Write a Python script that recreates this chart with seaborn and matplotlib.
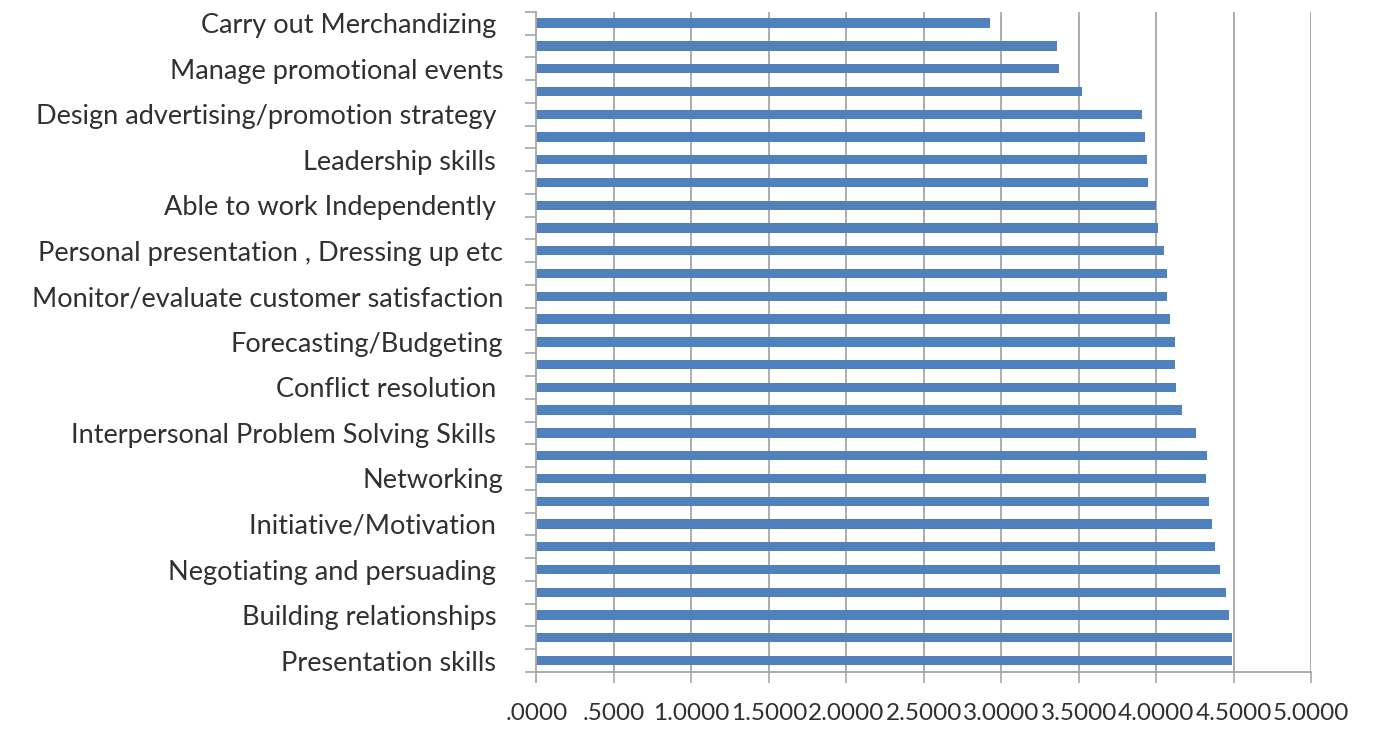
import numpy as np
import pandas as pd
import matplotlib
matplotlib.use("Agg")
import matplotlib.pyplot as plt
from matplotlib.ticker import FuncFormatter, FixedLocator
import seaborn as sns

# Mean ratings, listed from the top bar to the bottom bar
scores = [2.93, 3.36, 3.37, 3.52, 3.91, 3.93, 3.94, 3.95, 4.00, 4.01,
          4.05, 4.07, 4.07, 4.09, 4.12, 4.12, 4.13, 4.17, 4.26, 4.33,
          4.32, 4.34, 4.36, 4.38, 4.41, 4.45, 4.47, 4.49, 4.49]

# Axis labels are printed on every other bar, starting at the top one
skill_labels = [
    "Carry out Merchandizing ",
    "Manage promotional events",
    "Design advertising/promotion strategy ",
    "Leadership skills ",
    "Able to work Independently ",
    "Personal presentation , Dressing up etc",
    "Monitor/evaluate customer satisfaction",
    "Forecasting/Budgeting",
    "Conflict resolution ",
    "Interpersonal Problem Solving Skills ",
    "Networking",
    "Initiative/Motivation ",
    "Negotiating and persuading ",
    "Building relationships ",
    "Presentation skills ",
]

x_ticks = [0.0, 0.5, 1.0, 1.5, 2.0, 2.5, 3.0, 3.5, 4.0, 4.5, 5.0]

sns.set_theme(style="white")
plt.rcParams["font.family"] = ["Lato", "DejaVu Sans"]

df = pd.DataFrame({"pos": np.arange(len(scores)), "score": scores})

fig = plt.figure(figsize=(13.97, 7.34), dpi=100)
ax = fig.add_axes([0.384, 0.0845, 0.5545, 0.8995])

grid_col = "#A6A6A6"
for xv in x_ticks[1:]:
    ax.axvline(xv, color=grid_col, lw=1.3, zorder=0)

sns.barplot(data=df, x="score", y="pos", orient="h", native_scale=True,
            color="#4F81BD", saturation=1, width=0.41, linewidth=0,
            ax=ax, zorder=2)

ax.set_xlim(0, 5.0)
ax.set_ylim(len(scores) - 0.5, -0.5)

# y axis: labels on alternating bars, tick marks on category boundaries
ax.yaxis.set_major_locator(FixedLocator(np.arange(0, len(scores), 2)))
ax.set_yticklabels(skill_labels)
ax.yaxis.set_minor_locator(FixedLocator(np.arange(-0.5, len(scores), 1.0)))
ax.tick_params(axis="y", which="major", length=0, pad=24,
               labelsize=19.5, labelcolor="#303030")
ax.tick_params(axis="y", which="minor", length=8, width=1.2,
               color=grid_col, left=True)

# x axis: Excel-like number format without a leading zero
ax.xaxis.set_major_locator(FixedLocator(x_ticks))
ax.xaxis.set_major_formatter(FuncFormatter(
    lambda v, p: f"{v:.4f}".lstrip("0") if v < 1 else f"{v:.4f}"))
ax.tick_params(axis="x", which="major", length=8, width=1.2,
               color=grid_col, bottom=True, pad=14,
               labelsize=17.5, labelcolor="#303030")

ax.set_xlabel("")
ax.set_ylabel("")
for side in ("top", "right"):
    ax.spines[side].set_visible(False)
for side in ("left", "bottom"):
    ax.spines[side].set_color(grid_col)
    ax.spines[side].set_linewidth(1.3)

fig.savefig("out.png", dpi=100, facecolor="white")
